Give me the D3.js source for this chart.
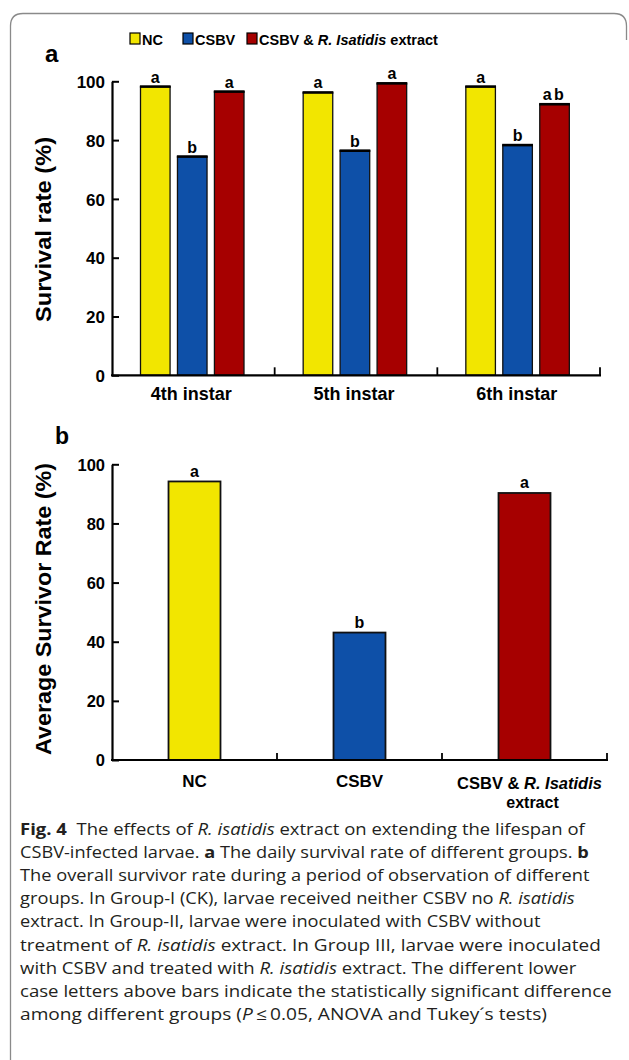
<!DOCTYPE html>
<html>
<head>
<meta charset="utf-8">
<script src="https://cdn.jsdelivr.net/npm/d3@7"></script>
<style>
  html, body { margin: 0; padding: 0; background: #fff; }
  svg { display: block; }
  .bold { font-family: "Liberation Sans", Arial, sans-serif; font-weight: bold; }
  .cap { font-family: "Open Sans", "Noto Sans", sans-serif; fill: #231f20; }
</style>
</head>
<body>
<svg id="chart" width="629" height="1060"></svg>
<script>
// ---------- DATA ----------
const seriesNames = ["NC", "CSBV", "CSBV & R. Isatidis extract"];
const seriesColors = ["#F2E600", "#0E50A8", "#A60000"];
const categoriesA = ["4th instar", "5th instar", "6th instar"];
const ncA = [98.2, 96.2, 98.2];
const csbvA = [74.4, 76.4, 78.3];
const extractA = [96.5, 99.3, 92.2];
const ncLettersA = ["a", "a", "a"];
const csbvLettersA = ["b", "b", "b"];
const extractLettersA = ["a", "a", "ab"];
const categoriesB = ["NC", "CSBV", "CSBV & R. Isatidis extract"];
const valuesB = [94.2, 43.1, 90.3];
const lettersB = ["a", "b", "a"];
const yTicks = [0, 20, 40, 60, 80, 100];
const captionLines = [
  [["b", "Fig. 4"], ["n", "  The effects of "], ["i", "R. isatidis"], ["n", " extract on extending the lifespan of"]],
  [["n", "CSBV-infected larvae. "], ["b", "a"], ["n", " The daily survival rate of different groups. "], ["b", "b"]],
  [["n", "The overall survivor rate during a period of observation of different"]],
  [["n", "groups. In Group-I (CK), larvae received neither CSBV no "], ["i", "R. isatidis"]],
  [["n", "extract. In Group-II, larvae were inoculated with CSBV without"]],
  [["n", "treatment of "], ["i", "R. isatidis"], ["n", " extract. In Group III, larvae were inoculated"]],
  [["n", "with CSBV and treated with "], ["i", "R. isatidis"], ["n", " extract. The different lower"]],
  [["n", "case letters above bars indicate the statistically significant difference"]],
  [["n", "among different groups ("], ["i", "P"], ["n", "\u2009\u2264\u20090.05, ANOVA and Tukey\u00b4s tests)"]]
];
const captionEnds = [585, 589, 590, 575, 541, 601, 577, 612, 547];

// ---------- SETUP ----------
const svg = d3.select("#chart");

// frame
svg.append("path")
  .attr("d", "M10.5,1062 L10.5,26 Q10.5,13.5 23,13.5 L614,13.5 Q626.5,13.5 626.5,26 L626.5,40")
  .attr("fill", "none").attr("stroke", "#8a8a8a").attr("stroke-width", 1.3);

// ---------- LEGEND ----------
const legendX = [130, 183, 247];
const legend = svg.append("g");
seriesNames.forEach((name, i) => {
  legend.append("rect").attr("x", legendX[i]).attr("y", 33).attr("width", 10).attr("height", 11)
    .attr("fill", seriesColors[i]).attr("stroke", "#000").attr("stroke-width", 1.2);
  const t = legend.append("text").attr("class", "bold").attr("x", legendX[i] + 12).attr("y", 44.5)
    .attr("font-size", 14.5);
  if (name.includes("R. Isatidis")) {
    t.append("tspan").text("CSBV & ");
    t.append("tspan").attr("font-style", "italic").text("R. Isatidis");
    t.append("tspan").text(" extract");
  } else t.text(name);
});

// ---------- PANEL A ----------
svg.append("text").attr("class", "bold").attr("x", 45).attr("y", 62).attr("font-size", 24).text("a");

const xA0 = d3.scaleBand().domain(categoriesA).range([112, 600]);
const xA1 = d3.scaleBand().domain(seriesNames).range([28.5, 132]).paddingInner(0.2);
const yA = d3.scaleLinear().domain([0, 100]).range([375.3, 81.3]);
const seriesA = [ncA, csbvA, extractA];
const lettersA = [ncLettersA, csbvLettersA, extractLettersA];

const gA = svg.append("g");
categoriesA.forEach((cat, ci) => {
  seriesNames.forEach((s, si) => {
    const v = seriesA[si][ci];
    const x = xA0(cat) + xA1(s);
    const w = xA1.bandwidth();
    gA.append("rect").attr("x", x).attr("y", yA(v)).attr("width", w).attr("height", yA(0) - yA(v))
      .attr("fill", seriesColors[si]).attr("stroke", "#111").attr("stroke-width", 1.3);
    gA.append("line").attr("x1", x - 0.6).attr("x2", x + w + 0.6).attr("y1", yA(v)).attr("y2", yA(v))
      .attr("stroke", "#000").attr("stroke-width", 2.6);
    gA.append("text").attr("class", "bold").attr("x", x + w / 2).attr("y", yA(v) - 4)
      .attr("text-anchor", "middle").attr("font-size", 16)
      .attr("letter-spacing", lettersA[si][ci].length > 1 ? 2.5 : 0)
      .text(lettersA[si][ci]);
  });
});

// y axis A
const yAxisA = d3.axisLeft(yA).tickValues(yTicks).tickSizeInner(-7).tickSizeOuter(0).tickPadding(7);
const gyA = svg.append("g").attr("transform", "translate(112,0)").call(yAxisA);
gyA.select(".domain").attr("stroke", "#000").attr("stroke-width", 2.2);
gyA.selectAll(".tick line").attr("stroke", "#000").attr("stroke-width", 2);
gyA.selectAll(".tick text").attr("class", "bold").attr("font-size", 17).attr("fill", "#000").attr("dy", "0.36em");

// x axis A
const gxA = svg.append("g");
gxA.append("line").attr("x1", 111).attr("x2", xA0.range()[1] + 1).attr("y1", yA(0)).attr("y2", yA(0))
  .attr("stroke", "#000").attr("stroke-width", 2.2);
categoriesA.forEach(cat => {
  const xe = xA0(cat) + xA0.bandwidth();
  gxA.append("line").attr("x1", xe).attr("x2", xe).attr("y1", yA(0)).attr("y2", yA(0) - 8)
    .attr("stroke", "#000").attr("stroke-width", 1.8);
  gxA.append("text").attr("class", "bold").attr("x", xA0(cat) + xA0.bandwidth() / 2 - 2).attr("y", 400)
    .attr("text-anchor", "middle").attr("font-size", 18).text(cat);
});

svg.append("text").attr("class", "bold").attr("transform", "translate(51,229.5) rotate(-90)")
  .attr("text-anchor", "middle").attr("font-size", 21.5)
  .attr("textLength", 185).attr("lengthAdjust", "spacingAndGlyphs").text("Survival rate (%)");

// ---------- PANEL B ----------
svg.append("text").attr("class", "bold").attr("x", 55).attr("y", 444).attr("font-size", 23).text("b");

const xB = d3.scaleBand().domain(categoriesB).range([112, 607]).paddingInner(0.685).paddingOuter(0.3425);
const yB = d3.scaleLinear().domain([0, 100]).range([760, 464.3]);
const stepB = xB.step();

const gB = svg.append("g");
categoriesB.forEach((cat, i) => {
  const v = valuesB[i];
  gB.append("rect").attr("x", xB(cat)).attr("y", yB(v)).attr("width", xB.bandwidth()).attr("height", yB(0) - yB(v))
    .attr("fill", seriesColors[i]).attr("stroke", "#111").attr("stroke-width", 1.8);
  gB.append("text").attr("class", "bold").attr("x", xB(cat) + xB.bandwidth() / 2).attr("y", yB(v) - 4.5)
    .attr("text-anchor", "middle").attr("font-size", 16).text(lettersB[i]);
});

const yAxisB = d3.axisLeft(yB).tickValues(yTicks).tickSizeInner(-7).tickSizeOuter(0).tickPadding(7);
const gyB = svg.append("g").attr("transform", "translate(112,0)").call(yAxisB);
gyB.select(".domain").attr("stroke", "#000").attr("stroke-width", 2.2);
gyB.selectAll(".tick line").attr("stroke", "#000").attr("stroke-width", 2);
gyB.selectAll(".tick text").attr("class", "bold").attr("font-size", 16.5).attr("fill", "#000").attr("dy", "0.36em");

const gxB = svg.append("g");
gxB.append("line").attr("x1", 111).attr("x2", xB.range()[1] + 1).attr("y1", yB(0)).attr("y2", yB(0))
  .attr("stroke", "#000").attr("stroke-width", 2.2);
categoriesB.forEach((cat, i) => {
  const xe = xB.range()[0] + stepB * (i + 1);
  gxB.append("line").attr("x1", xe).attr("x2", xe).attr("y1", yB(0)).attr("y2", yB(0) - 7)
    .attr("stroke", "#000").attr("stroke-width", 1.8);
  const cx = xB(cat) + xB.bandwidth() / 2;
  if (cat.includes("R. Isatidis")) {
    const t = gxB.append("text").attr("class", "bold").attr("x", cx + 5).attr("y", 789)
      .attr("text-anchor", "middle").attr("font-size", 16.5);
    t.append("tspan").text("CSBV & ");
    t.append("tspan").attr("font-style", "italic").text("R. Isatidis");
    gxB.append("text").attr("class", "bold").attr("x", cx + 8).attr("y", 807.5)
      .attr("text-anchor", "middle").attr("font-size", 16).text("extract");
  } else {
    gxB.append("text").attr("class", "bold").attr("x", cx).attr("y", 787)
      .attr("text-anchor", "middle").attr("font-size", 17).text(cat);
  }
});

svg.append("text").attr("class", "bold").attr("transform", "translate(51,609) rotate(-90)")
  .attr("text-anchor", "middle").attr("font-size", 21.5)
  .attr("textLength", 292).attr("lengthAdjust", "spacingAndGlyphs").text("Average Survivor Rate (%)");

// ---------- CAPTION ----------
const capX = 20;
const capG = svg.append("g");
captionLines.forEach((parts, li) => {
  const t = capG.append("text").attr("class", "cap").attr("x", 0).attr("y", 0).attr("font-size", 16.5)
    .attr("xml:space", "preserve").style("white-space", "pre");
  parts.forEach(([st, txt]) => {
    const sp = t.append("tspan").text(txt);
    if (st === "b") sp.attr("font-weight", "bold");
    if (st === "i") sp.attr("font-style", "italic");
  });
  const w = t.node().getComputedTextLength();
  const target = captionEnds[li] - capX;
  const sx = target / w;
  t.attr("transform", `translate(${capX},${835 + li * 23.1}) scale(${sx},1)`);
});
</script>
</body>
</html>
